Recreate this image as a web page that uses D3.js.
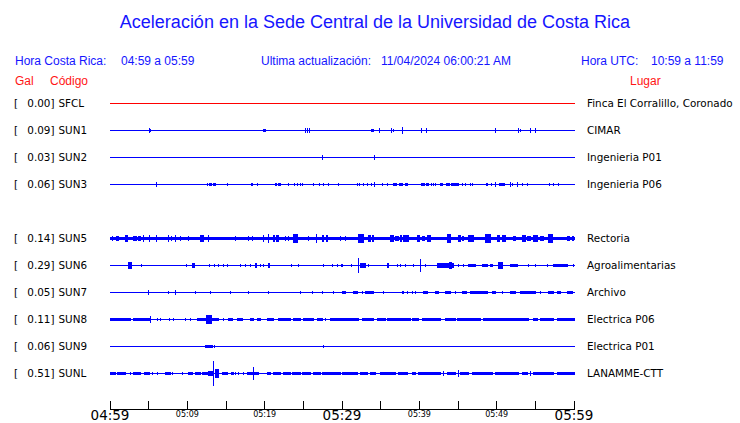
<!DOCTYPE html>
<html><head><meta charset="utf-8">
<script src="https://cdn.jsdelivr.net/npm/d3@7"></script>
<style>body{margin:0;background:#fff}svg{display:block}</style>
</head><body>
<script>
// ---------- DATA ----------
const title = "Aceleración en la Sede Central de la Universidad de Costa Rica";
const localLabel = "Hora Costa Rica:", localRange = "04:59 a 05:59";
const updLabel = "Ultima actualización:", updValue = "11/04/2024 06:00:21 AM";
const utcLabel = "Hora UTC:", utcRange = "10:59 a 11:59";
const rowSlots = ["SFCL","SUN1","SUN2","SUN3","SUN4","SUN5","SUN6","SUN7","SUN8","SUN9","SUNL"];
const codes  = ["SFCL","SUN1","SUN2","SUN3","SUN5","SUN6","SUN7","SUN8","SUN9","SUNL"];
const gals   = [0.00,0.09,0.03,0.06,0.14,0.29,0.05,0.11,0.06,0.51];
const places = ["Finca El Corralillo, Coronado","CIMAR","Ingenieria P01","Ingenieria P06","Rectoria","Agroalimentarias","Archivo","Electrica P06","Electrica P01","LANAMME-CTT"];
const traceColors = ["red","blue","blue","blue","blue","blue","blue","blue","blue","blue"];
const tickMinutes = [0,5,10,15,20,25,30,35,40,45,50,55,60];
const tickLabels  = ["04:59","","05:09","","05:19","","05:29","","05:39","","05:49","","05:59"];
const majorLabels = ["04:59","05:29","05:59"];
// events: [startMinute, endMinute, relative amplitude]
const sfclEvents = [];
const sun1Events = [[5.0,5.0,.15],[5.2,5.2,.12],[19.8,20.0,.12],[25.2,25.2,.15],[25.5,25.5,.15],[25.7,25.7,.15],[33.8,34.0,.12],[34.8,34.8,.15],[36.3,36.3,.15],[36.6,36.6,.08],[37.8,37.8,.25],[40.2,40.2,.15],[40.9,40.9,.15],[49.8,49.8,.15],[52.8,52.8,.15],[53.0,53.0,.08],[54.3,54.3,.15],[55.0,55.0,.15]];
const sun2Events = [[27.4,27.4,.15],[34.1,34.1,.15]];
const sun3Events = [[5.9,5.9,.15],[12.5,12.6,.12],[12.8,13.0,.12],[13.3,13.6,.12],[15.1,15.1,.1],[18.2,18.3,.12],[19.0,19.0,.1],[21.3,21.5,.12],[21.7,22.0,.12],[23.0,23.0,.08],[23.8,23.8,.12],[24.2,24.2,.12],[24.6,24.6,.12],[24.8,24.8,.12],[26.2,26.2,.12],[27.0,27.0,.12],[27.5,27.5,.12],[28.2,28.2,.08],[29.5,29.5,.12],[31.9,31.9,.08],[32.2,32.2,.08],[32.7,32.7,.12],[33.2,33.2,.12],[33.7,33.7,.12],[34.1,34.1,.15],[35.2,35.2,.08],[35.8,35.8,.12],[36.6,37.0,.12],[37.4,37.8,.12],[38.1,38.4,.12],[40.2,40.6,.12],[40.8,41.1,.12],[41.5,41.5,.12],[41.8,41.8,.12],[42.0,42.0,.12],[42.7,42.9,.12],[43.4,43.8,.12],[44.1,44.5,.12],[44.6,45.0,.1],[45.5,45.5,.08],[45.9,45.9,.12],[46.5,46.5,.12],[46.8,46.8,.12],[48.6,48.7,.12],[49.3,49.3,.12],[49.8,49.8,.15],[50.3,50.9,.12],[51.7,51.7,.15],[52.0,52.0,.12],[52.6,52.6,.15],[53.3,53.3,.12],[53.9,53.9,.12],[56.8,56.8,.08],[57.3,57.3,.08],[57.9,57.9,.08]];
const sun5Events = [[0,60,.12],[0.2,0.2,.2],[0.8,1.0,.2],[1.9,2.2,.28],[3.0,3.3,.2],[3.6,3.9,.2],[4.3,4.3,.22],[5.0,5.0,.22],[5.9,5.9,.22],[7.5,7.5,.22],[7.9,7.9,.2],[8.4,8.4,.22],[9.1,9.1,.2],[10.1,10.1,.2],[11.6,12.0,.28],[12.7,12.7,.22],[16.2,16.2,.2],[17.8,17.8,.2],[18.4,18.4,.2],[19.8,19.8,.22],[20.4,20.4,.3],[21.1,21.2,.22],[21.5,21.7,.22],[22.6,22.6,.2],[23.0,23.0,.2],[23.7,24.2,.32],[25.6,25.6,.2],[26.6,26.6,.3],[27.4,27.6,.22],[27.9,28.1,.22],[29.7,29.7,.2],[30.4,30.4,.2],[32.1,32.7,.3],[33.4,33.6,.22],[33.9,34.0,.22],[36.2,36.6,.25],[36.9,37.2,.2],[37.5,37.6,.22],[37.9,38.5,.25],[39.7,39.9,.22],[40.3,40.6,.2],[41.0,41.4,.22],[43.6,44.0,.3],[45.0,45.2,.22],[45.5,45.6,.2],[46.3,46.9,.25],[48.5,49.1,.3],[50.0,50.3,.22],[50.7,51.1,.22],[52.1,52.4,.2],[53.3,53.6,.22],[53.9,54.3,.2],[54.7,55.2,.22],[55.6,56.0,.2],[56.6,57.2,.3],[59.1,59.3,.2],[59.7,59.9,.2]];
const sun6Events = [[2.3,2.7,.25],[4.0,4.0,.1],[9.8,9.8,.1],[10.6,10.8,.15],[12.8,12.8,.1],[13.4,13.4,.1],[14.0,14.0,.1],[14.6,14.6,.1],[15.1,15.1,.1],[16.8,16.8,.1],[17.5,17.5,.1],[18.1,18.1,.1],[18.8,18.9,.15],[19.4,19.4,.1],[19.8,19.8,.12],[20.4,20.5,.15],[23.4,23.4,.1],[24.3,24.3,.1],[27.5,27.5,.1],[28.7,28.7,.1],[29.4,29.4,.1],[29.9,30.0,.1],[31.2,31.2,.1],[32.1,32.1,.55],[32.3,33.0,.15],[33.4,33.4,.1],[35.8,35.9,.15],[37.1,37.1,.1],[37.5,37.5,.1],[38.1,38.1,.1],[39.2,39.2,.12],[40.1,40.1,.5],[40.7,40.7,.1],[42.3,44.4,.18],[43.8,44.1,.28],[45.0,45.0,.1],[45.6,45.6,.1],[46.3,47.2,.12],[48.1,48.8,.12],[49.1,49.4,.12],[50.2,50.7,.25],[51.7,52.6,.12],[54.1,54.1,.1],[55.0,55.0,.1],[56.5,56.5,.1],[57.3,59.1,.12],[59.9,59.9,.1]];
const sun7Events = [[4.9,4.9,.15],[7.5,7.5,.1],[8.4,8.4,.15],[11.0,11.0,.1],[12.9,12.9,.1],[15.5,15.5,.1],[17.8,17.8,.1],[20.4,20.4,.1],[24.6,24.6,.1],[26.1,26.1,.1],[27.4,27.4,.1],[28.8,28.8,.1],[30.0,30.4,.12],[31.4,31.9,.12],[32.6,32.6,.1],[33.0,34.0,.12],[35.3,35.3,.1],[37.8,37.9,.12],[38.4,38.4,.1],[39.1,39.1,.1],[39.4,39.4,.1],[40.5,41.0,.12],[42.0,42.4,.12],[43.3,44.0,.12],[44.6,44.6,.1],[45.5,46.0,.12],[46.6,48.8,.12],[49.4,49.8,.1],[50.7,50.7,.1],[51.7,52.4,.12],[53.0,55.0,.12],[55.6,55.6,.12],[56.6,57.3,.12],[57.8,58.2,.12],[59.1,59.7,.12]];
const sun8Events = [[0,2.6,.12],[3.0,5.2,.12],[5.2,5.2,.22],[6.1,6.1,.1],[6.5,6.5,.1],[7.6,7.6,.1],[8.1,8.1,.1],[9.7,9.7,.1],[10.3,10.3,.1],[11.3,14.0,.12],[12.4,13.1,.3],[14.6,14.6,.1],[15.3,15.8,.12],[16.4,17.1,.12],[18.1,18.5,.1],[19.0,19.4,.1],[20.3,21.1,.12],[21.7,22.2,.12],[22.4,23.3,.12],[23.7,24.6,.12],[25.0,26.2,.12],[26.8,27.4,.12],[27.8,27.8,.1],[28.5,30.6,.12],[30.8,32.1,.12],[32.6,34.0,.12],[34.5,35.6,.12],[35.8,38.8,.12],[39.1,39.8,.12],[40.3,42.7,.12],[43.3,44.6,.12],[44.9,47.8,.12],[48.2,50.0,.12],[50.2,54.1,.12],[54.7,55.2,.12],[55.6,56.5,.12],[56.6,57.3,.12],[57.8,60,.12]];
const sun9Events = [[12.3,13.2,.12],[13.4,13.4,.1],[27.5,27.5,.08]];
const sunlEvents = [[0,0.6,.12],[0.9,1.9,.12],[2.6,2.6,.1],[3.0,3.9,.12],[4.4,5.0,.12],[5.4,5.4,.1],[6.1,6.1,.1],[7.1,7.8,.12],[8.0,8.0,.1],[9.3,9.3,.1],[10.1,10.6,.12],[11.0,11.6,.12],[11.9,12.5,.12],[12.7,13.2,.2],[13.3,13.3,1.0],[13.6,14.0,.35],[14.5,15.1,.12],[15.6,15.9,.1],[16.2,16.2,.1],[16.6,16.6,.1],[17.2,17.2,.1],[17.7,19.0,.12],[18.5,18.5,.5],[19.1,19.1,.1],[20.3,20.7,.12],[21.1,22.0,.12],[22.4,23.3,.12],[23.5,24.6,.12],[24.8,25.9,.12],[26.3,27.2,.12],[27.4,29.7,.12],[30.0,31.9,.12],[32.3,33.2,.12],[33.6,34.3,.12],[34.9,36.9,.12],[37.2,38.4,.12],[39.1,39.4,.12],[39.8,42.7,.12],[43.1,43.1,.15],[43.6,44.6,.12],[45.0,45.0,.22],[45.3,46.3,.12],[46.8,49.4,.12],[49.8,52.8,.12],[53.3,53.9,.12],[54.3,54.3,.15],[54.7,57.3,.12],[57.8,60,.12]];
const allEvents = [sfclEvents,sun1Events,sun2Events,sun3Events,sun5Events,sun6Events,sun7Events,sun8Events,sun9Events,sunlEvents];

// ---------- DRAW ----------
const W = 740, H = 423;
const svg = d3.select("body").append("svg").attr("width", W).attr("height", H);
const sans = "'Liberation Sans', Arial, sans-serif";
const dv = "'DejaVu Sans', sans-serif";

const x = d3.scaleLinear().domain([0, 60]).range([110, 574]);
const y = d3.scalePoint().domain(rowSlots).range([103, 373]);
const amp = d3.scaleLinear().domain([0, 1]).range([0, 12]);

svg.append("text").attr("x", 375).attr("y", 28).attr("text-anchor", "middle")
  .attr("font-family", sans).attr("font-size", 18).attr("fill", "#1515ff").text(title);

const hdr = [[15, localLabel],[121, localRange],[261, updLabel],[381, updValue],[581, utcLabel],[651, utcRange]];
svg.selectAll("text.hdr").data(hdr).join("text").attr("class","hdr")
  .attr("x", d => d[0]).attr("y", 65).attr("font-family", sans).attr("font-size", 12)
  .attr("fill", "#1515ff").text(d => d[1]);
const red = [[15,"Gal"],[50,"Código"],[630,"Lugar"]];
svg.selectAll("text.red").data(red).join("text").attr("class","red")
  .attr("x", d => d[0]).attr("y", 84.5).attr("font-family", sans).attr("font-size", 12)
  .attr("fill", "#ff1515").text(d => d[1]);

const rows = svg.append("g").selectAll("g").data(codes).join("g")
  .attr("transform", d => `translate(0,${y(d)})`);

rows.append("text").attr("x", 14).attr("y", 4).attr("font-family", dv).attr("font-size", 10.4).attr("fill","#000").text("[");
rows.append("text").attr("x", 54.5).attr("y", 4).attr("text-anchor","end").attr("font-family", dv).attr("font-size", 10.4).attr("fill","#000")
  .text((d,i) => gals[i].toFixed(2) + "]");
rows.append("text").attr("x", 58.5).attr("y", 4).attr("font-family", dv).attr("font-size", 10.4).attr("fill","#000").text(d => d);
rows.append("text").attr("x", 587).attr("y", 4).attr("font-family", dv).attr("font-size", 10.4).attr("fill","#000")
  .text((d,i) => places[i]);

rows.each(function(d, i) {
  const g = d3.select(this).append("g").attr("shape-rendering", "crispEdges").attr("fill", traceColors[i]);
  g.append("rect").attr("x", Math.round(x(0))).attr("y", 0)
    .attr("width", Math.round(x(60)) - Math.round(x(0)) + 1).attr("height", 1);
  g.selectAll("rect.ev").data(allEvents[i]).join("rect").attr("class","ev")
    .attr("x", e => Math.round(x(e[0])))
    .attr("width", e => Math.max(1, Math.round(x(e[1])) - Math.round(x(e[0])) + 1))
    .attr("y", e => -Math.round(amp(e[2])))
    .attr("height", e => 2 * Math.round(amp(e[2])) + 1);
});

// axis
const axisY = 409;
const ax = svg.append("g").attr("transform", `translate(0,${axisY}.5)`)
  .call(d3.axisTop(x).tickValues(tickMinutes).tickSize(9).tickSizeOuter(0).tickFormat(""));
ax.selectAll("path,line").attr("stroke", "#000").attr("shape-rendering", "crispEdges");
ax.select(".domain").attr("d", `M${x(0)},0H${x(60)+1}`);
ax.selectAll(".tick line").attr("transform", "translate(-0.5,0)");
svg.selectAll("text.tl").data(tickMinutes.filter((m,i) => tickLabels[i] !== "")).join("text").attr("class","tl")
  .attr("x", m => x(m)).attr("text-anchor","middle")
  .attr("y", m => majorLabels.includes(tickLabels[tickMinutes.indexOf(m)]) ? 420 : 417)
  .attr("font-family", dv)
  .attr("font-size", m => majorLabels.includes(tickLabels[tickMinutes.indexOf(m)]) ? 13.5 : 8)
  .attr("fill","#000")
  .text(m => tickLabels[tickMinutes.indexOf(m)]);
</script>
</body></html>
